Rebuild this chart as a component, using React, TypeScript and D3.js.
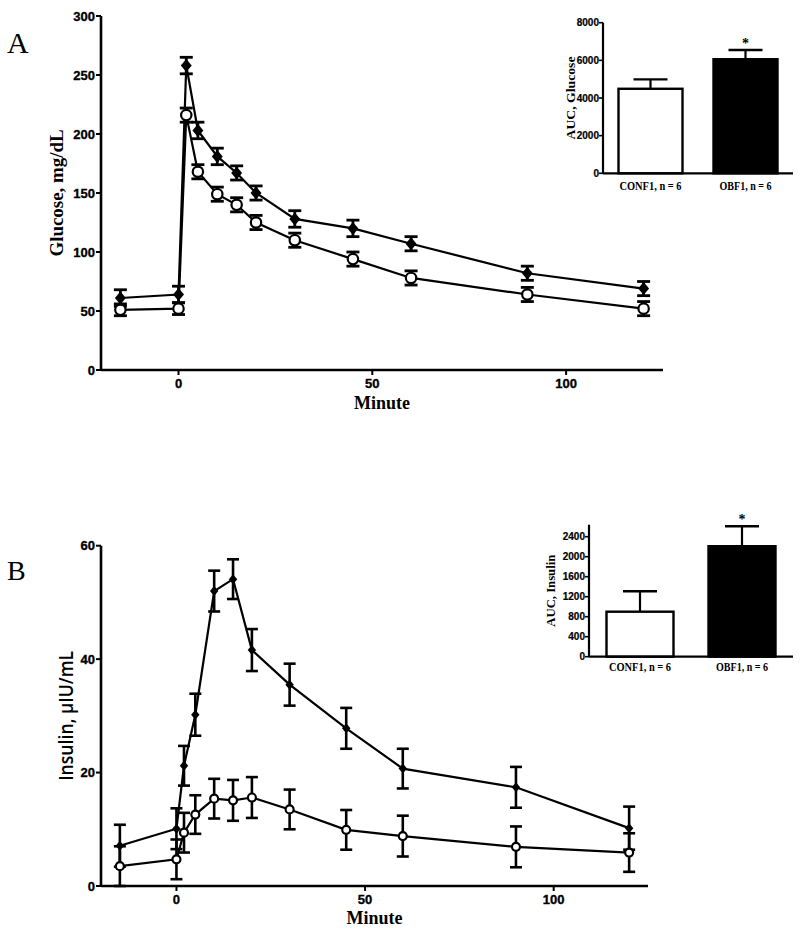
import React from "react";
import * as d3 from "d3";

const timeMin = [-15, 0, 2, 5, 10, 15, 20, 30, 45, 60, 90, 120];
const glucoseOBF1 = [61, 64, 258, 203, 181, 167, 150, 128, 120, 107, 82, 69];
const glucoseOBF1SE = [7, 7, 7, 7, 7, 6, 6, 7, 7, 6, 6, 6];
const glucoseCONF1 = [51, 52, 216, 168, 149, 140, 125, 110, 94, 78, 64, 52];
const glucoseCONF1SE = [5, 5, 6, 6, 6, 6, 6, 6, 6, 6, 6, 6];

const insulinOBF1 = [7.1, 10.1, 21.2, 30.2, 52, 54.1, 41.6, 35.5, 27.8, 20.7, 17.4, 10.2];
const insulinOBF1SE = [3.7, 3.6, 3.5, 3.7, 3.6, 3.5, 3.7, 3.7, 3.6, 3.5, 3.6, 3.8];
const insulinCONF1 = [3.5, 4.7, 9.4, 12.6, 15.4, 15.1, 15.6, 13.5, 9.9, 8.8, 6.9, 5.9];
const insulinCONF1SE = [3.5, 3.5, 3.5, 3.4, 3.5, 3.6, 3.6, 3.5, 3.5, 3.6, 3.6, 3.4];

const groups = ["CONF1, n = 6", "OBF1, n = 6"];
const aucGlucose = [4490, 6060];
const aucGlucoseSE = [500, 490];
const aucInsulin = [900, 2210];
const aucInsulinSE = [410, 400];

const minuteTicks = [0, 50, 100];
const glucoseTicks = [0, 50, 100, 150, 200, 250, 300];
const insulinTicks = [0, 20, 40, 60];
const aucGlucoseTicks = [0, 2000, 4000, 6000, 8000];
const aucInsulinTicks = [0, 400, 800, 1200, 1600, 2000, 2400];

const SERIF = "'Liberation Serif', 'DejaVu Serif', serif";
const SANS = "'Liberation Sans', Arial, sans-serif";

type Series = { vals: number[]; se: number[]; filled: boolean };

function LinePanel(props: {
  x: d3.ScaleLinear<number, number>;
  y: d3.ScaleLinear<number, number>;
  yTicks: number[];
  series: Series[];
  yLabel: string;
  yLabelFont: string;
  yLabelSize: number;
  yLabelWeight: string;
  yLabelX: number;
  yLabelLen?: number;
  tickSize: number;
  capW: number;
  r: number;
  minuteY: number;
  barW: number;
}) {
  const { x, y, yTicks, series } = props;
  const [x0, x1] = x.range();
  const [y0, y1] = y.range();
  const line = d3
    .line<number>()
    .x((_, i) => x(timeMin[i]))
    .y((d) => y(d));
  const yMid = (y0 + y1) / 2;
  return (
    <g>
      {series.map((s, si) => (
        <path key={"l" + si} d={line(s.vals) || ""} fill="none" stroke="#000" strokeWidth={2.2} />
      ))}
      {series.map((s, si) =>
        s.vals.map((v, i) => {
          const cx = x(timeMin[i]);
          const top = y(v + s.se[i]);
          const bot = y(v - s.se[i]);
          return (
            <g key={"e" + si + "-" + i} stroke="#000" strokeWidth={props.barW}>
              <line x1={cx} x2={cx} y1={top} y2={bot} />
              <line x1={cx - props.capW / 2} x2={cx + props.capW / 2} y1={top} y2={top} />
              <line x1={cx - props.capW / 2} x2={cx + props.capW / 2} y1={bot} y2={bot} />
            </g>
          );
        })
      )}
      {series.map((s, si) =>
        s.vals.map((v, i) => {
          const cx = x(timeMin[i]);
          const cy = y(v);
          const r = props.r;
          return s.filled ? (
            <path
              key={"m" + si + "-" + i}
              d={`M${cx},${cy - r * 1.25}L${cx + r * 1.05},${cy}L${cx},${cy + r * 1.25}L${cx - r * 1.05},${cy}Z`}
              fill="#000"
            />
          ) : (
            <circle key={"m" + si + "-" + i} cx={cx} cy={cy} r={r} fill="#fff" stroke="#000" strokeWidth={2.2} />
          );
        })
      )}
      <line x1={x0} x2={x0} y1={y1} y2={y0} stroke="#000" strokeWidth={2.6} />
      <line x1={x0} x2={x1} y1={y0} y2={y0} stroke="#000" strokeWidth={2.6} />
      {yTicks.map((t) => (
        <g key={"yt" + t}>
          <line x1={x0 - 5} x2={x0} y1={y(t)} y2={y(t)} stroke="#000" strokeWidth={2} />
          <text
            x={x0 - 6}
            y={y(t)}
            dy="0.35em"
            textAnchor="end"
            fontFamily={SANS}
            fontWeight="bold"
            fontSize={props.tickSize}
            stroke="#000"
            strokeWidth={0.35}
          >
            {t}
          </text>
        </g>
      ))}
      {minuteTicks.map((t) => (
        <g key={"xt" + t}>
          <line x1={x(t)} x2={x(t)} y1={y0} y2={y0 + 5} stroke="#000" strokeWidth={2} />
          <text
            x={x(t)}
            y={y0 + 18}
            textAnchor="middle"
            fontFamily={SANS}
            fontWeight="bold"
            fontSize={props.tickSize}
            stroke="#000"
            strokeWidth={0.35}
          >
            {t}
          </text>
        </g>
      ))}
      <text
        x={(x0 + x1) / 2}
        y={props.minuteY}
        textAnchor="middle"
        fontFamily={SERIF}
        fontWeight="bold"
        fontSize={18}
      >
        Minute
      </text>
      <text
        transform={`translate(${props.yLabelX},${yMid}) rotate(-90)`}
        textAnchor="middle"
        fontFamily={props.yLabelFont}
        fontWeight={props.yLabelWeight}
        fontSize={props.yLabelSize}
        textLength={props.yLabelLen}
        lengthAdjust="spacingAndGlyphs"
      >
        {props.yLabel}
      </text>
    </g>
  );
}

function BarInset(props: {
  x0: number;
  x1: number;
  y: d3.ScaleLinear<number, number>;
  ticks: number[];
  vals: number[];
  se: number[];
  barWidth: number;
  label: string;
  labelX: number;
  labelLen: number;
  catY: number;
}) {
  const { y } = props;
  const xs = d3.scalePoint<string>().domain(groups).range([props.x0, props.x1]).padding(0.5);
  const [yb, yt] = y.range();
  return (
    <g>
      {groups.map((g, i) => {
        const cx = xs(g) as number;
        const top = y(props.vals[i]);
        const et = y(props.vals[i] + props.se[i]);
        return (
          <g key={g}>
            <line x1={cx} x2={cx} y1={top} y2={et} stroke="#000" strokeWidth={2.2} />
            <line x1={cx - 17} x2={cx + 17} y1={et} y2={et} stroke="#000" strokeWidth={2.4} />
            <rect
              x={cx - props.barWidth / 2}
              y={top}
              width={props.barWidth}
              height={yb - top}
              fill={i === 0 ? "#fff" : "#000"}
              stroke="#000"
              strokeWidth={2.4}
            />
            {i === 1 && (
              <text x={cx} y={et - 2} textAnchor="middle" fontFamily={SERIF} fontWeight="bold" fontSize={14}>
                *
              </text>
            )}
            <text
              x={cx}
              y={props.catY}
              textAnchor="middle"
              fontFamily={SERIF}
              fontWeight="bold"
              fontSize={12}
              textLength={i === 0 ? 62 : 52}
              lengthAdjust="spacingAndGlyphs"
            >
              {g}
            </text>
          </g>
        );
      })}
      <line x1={props.x0} x2={props.x0} y1={yt} y2={yb} stroke="#000" strokeWidth={2.2} />
      <line x1={props.x0} x2={props.x1} y1={yb} y2={yb} stroke="#000" strokeWidth={2.2} />
      {props.ticks.map((t) => (
        <g key={t}>
          <line x1={props.x0 - 4} x2={props.x0} y1={y(t)} y2={y(t)} stroke="#000" strokeWidth={1.6} />
          <text
            x={props.x0 - 4}
            y={y(t)}
            dy="0.35em"
            textAnchor="end"
            fontFamily={SANS}
            fontWeight="bold"
            fontSize={10}
            stroke="#000"
            strokeWidth={0.2}
          >
            {t}
          </text>
        </g>
      ))}
      <text
        transform={`translate(${props.labelX},${(yb + yt) / 2}) rotate(-90)`}
        textAnchor="middle"
        fontFamily={SERIF}
        fontWeight="bold"
        fontSize={13.5}
        textLength={props.labelLen}
        lengthAdjust="spacingAndGlyphs"
      >
        {props.label}
      </text>
    </g>
  );
}

export default function App() {
  const xA = d3.scaleLinear().domain([-20, 125]).range([101, 663]);
  const yA = d3.scaleLinear().domain([0, 300]).range([370, 16]);
  const xB = d3.scaleLinear().domain([-20, 125]).range([101, 648]);
  const yB = d3.scaleLinear().domain([0, 60]).range([886, 545.7]);
  const yIA = d3.scaleLinear().domain([0, 8000]).range([173.3, 22.7]);
  const yIB = d3.scaleLinear().domain([0, 2640]).range([656.7, 524.7]);

  return (
    <svg
      width={800}
      height={930}
      style={{ position: "absolute", left: 0, top: 0, background: "#fff" }}
    >
      <rect width={800} height={930} fill="#fff" />
      <text x={7} y={53} fontFamily={SERIF} fontSize={30}>
        A
      </text>
      <text x={7} y={580} fontFamily={SERIF} fontSize={28}>
        B
      </text>
      <LinePanel
        x={xA}
        y={yA}
        yTicks={glucoseTicks}
        series={[
          { vals: glucoseCONF1, se: glucoseCONF1SE, filled: false },
          { vals: glucoseOBF1, se: glucoseOBF1SE, filled: true },
        ]}
        yLabel="Glucose, mg/dL"
        yLabelFont={SERIF}
        yLabelSize={19}
        yLabelWeight="bold"
        yLabelX={63}
        yLabelLen={127}
        tickSize={13}
        capW={13}
        r={5.2}
        minuteY={409}
        barW={2.8}
      />
      <LinePanel
        x={xB}
        y={yB}
        yTicks={insulinTicks}
        series={[
          { vals: insulinCONF1, se: insulinCONF1SE, filled: false },
          { vals: insulinOBF1, se: insulinOBF1SE, filled: true },
        ]}
        yLabel="Insulin, µIU/mL"
        yLabelFont="'Open Sans', 'Noto Sans', sans-serif"
        yLabelSize={19}
        yLabelWeight="600"
        yLabelX={73}
        yLabelLen={130}
        tickSize={13}
        capW={12}
        r={4}
        minuteY={924}
        barW={2.6}
      />
      <BarInset
        x0={603}
        x1={793}
        y={yIA}
        ticks={aucGlucoseTicks}
        vals={aucGlucose}
        se={aucGlucoseSE}
        barWidth={64}
        label="AUC, Glucose"
        labelX={575}
        labelLen={83}
        catY={190}
      />
      <BarInset
        x0={589}
        x1={793}
        y={yIB}
        ticks={aucInsulinTicks}
        vals={aucInsulin}
        se={aucInsulinSE}
        barWidth={67}
        label="AUC, Insulin"
        labelX={555}
        labelLen={72}
        catY={671}
      />
    </svg>
  );
}
